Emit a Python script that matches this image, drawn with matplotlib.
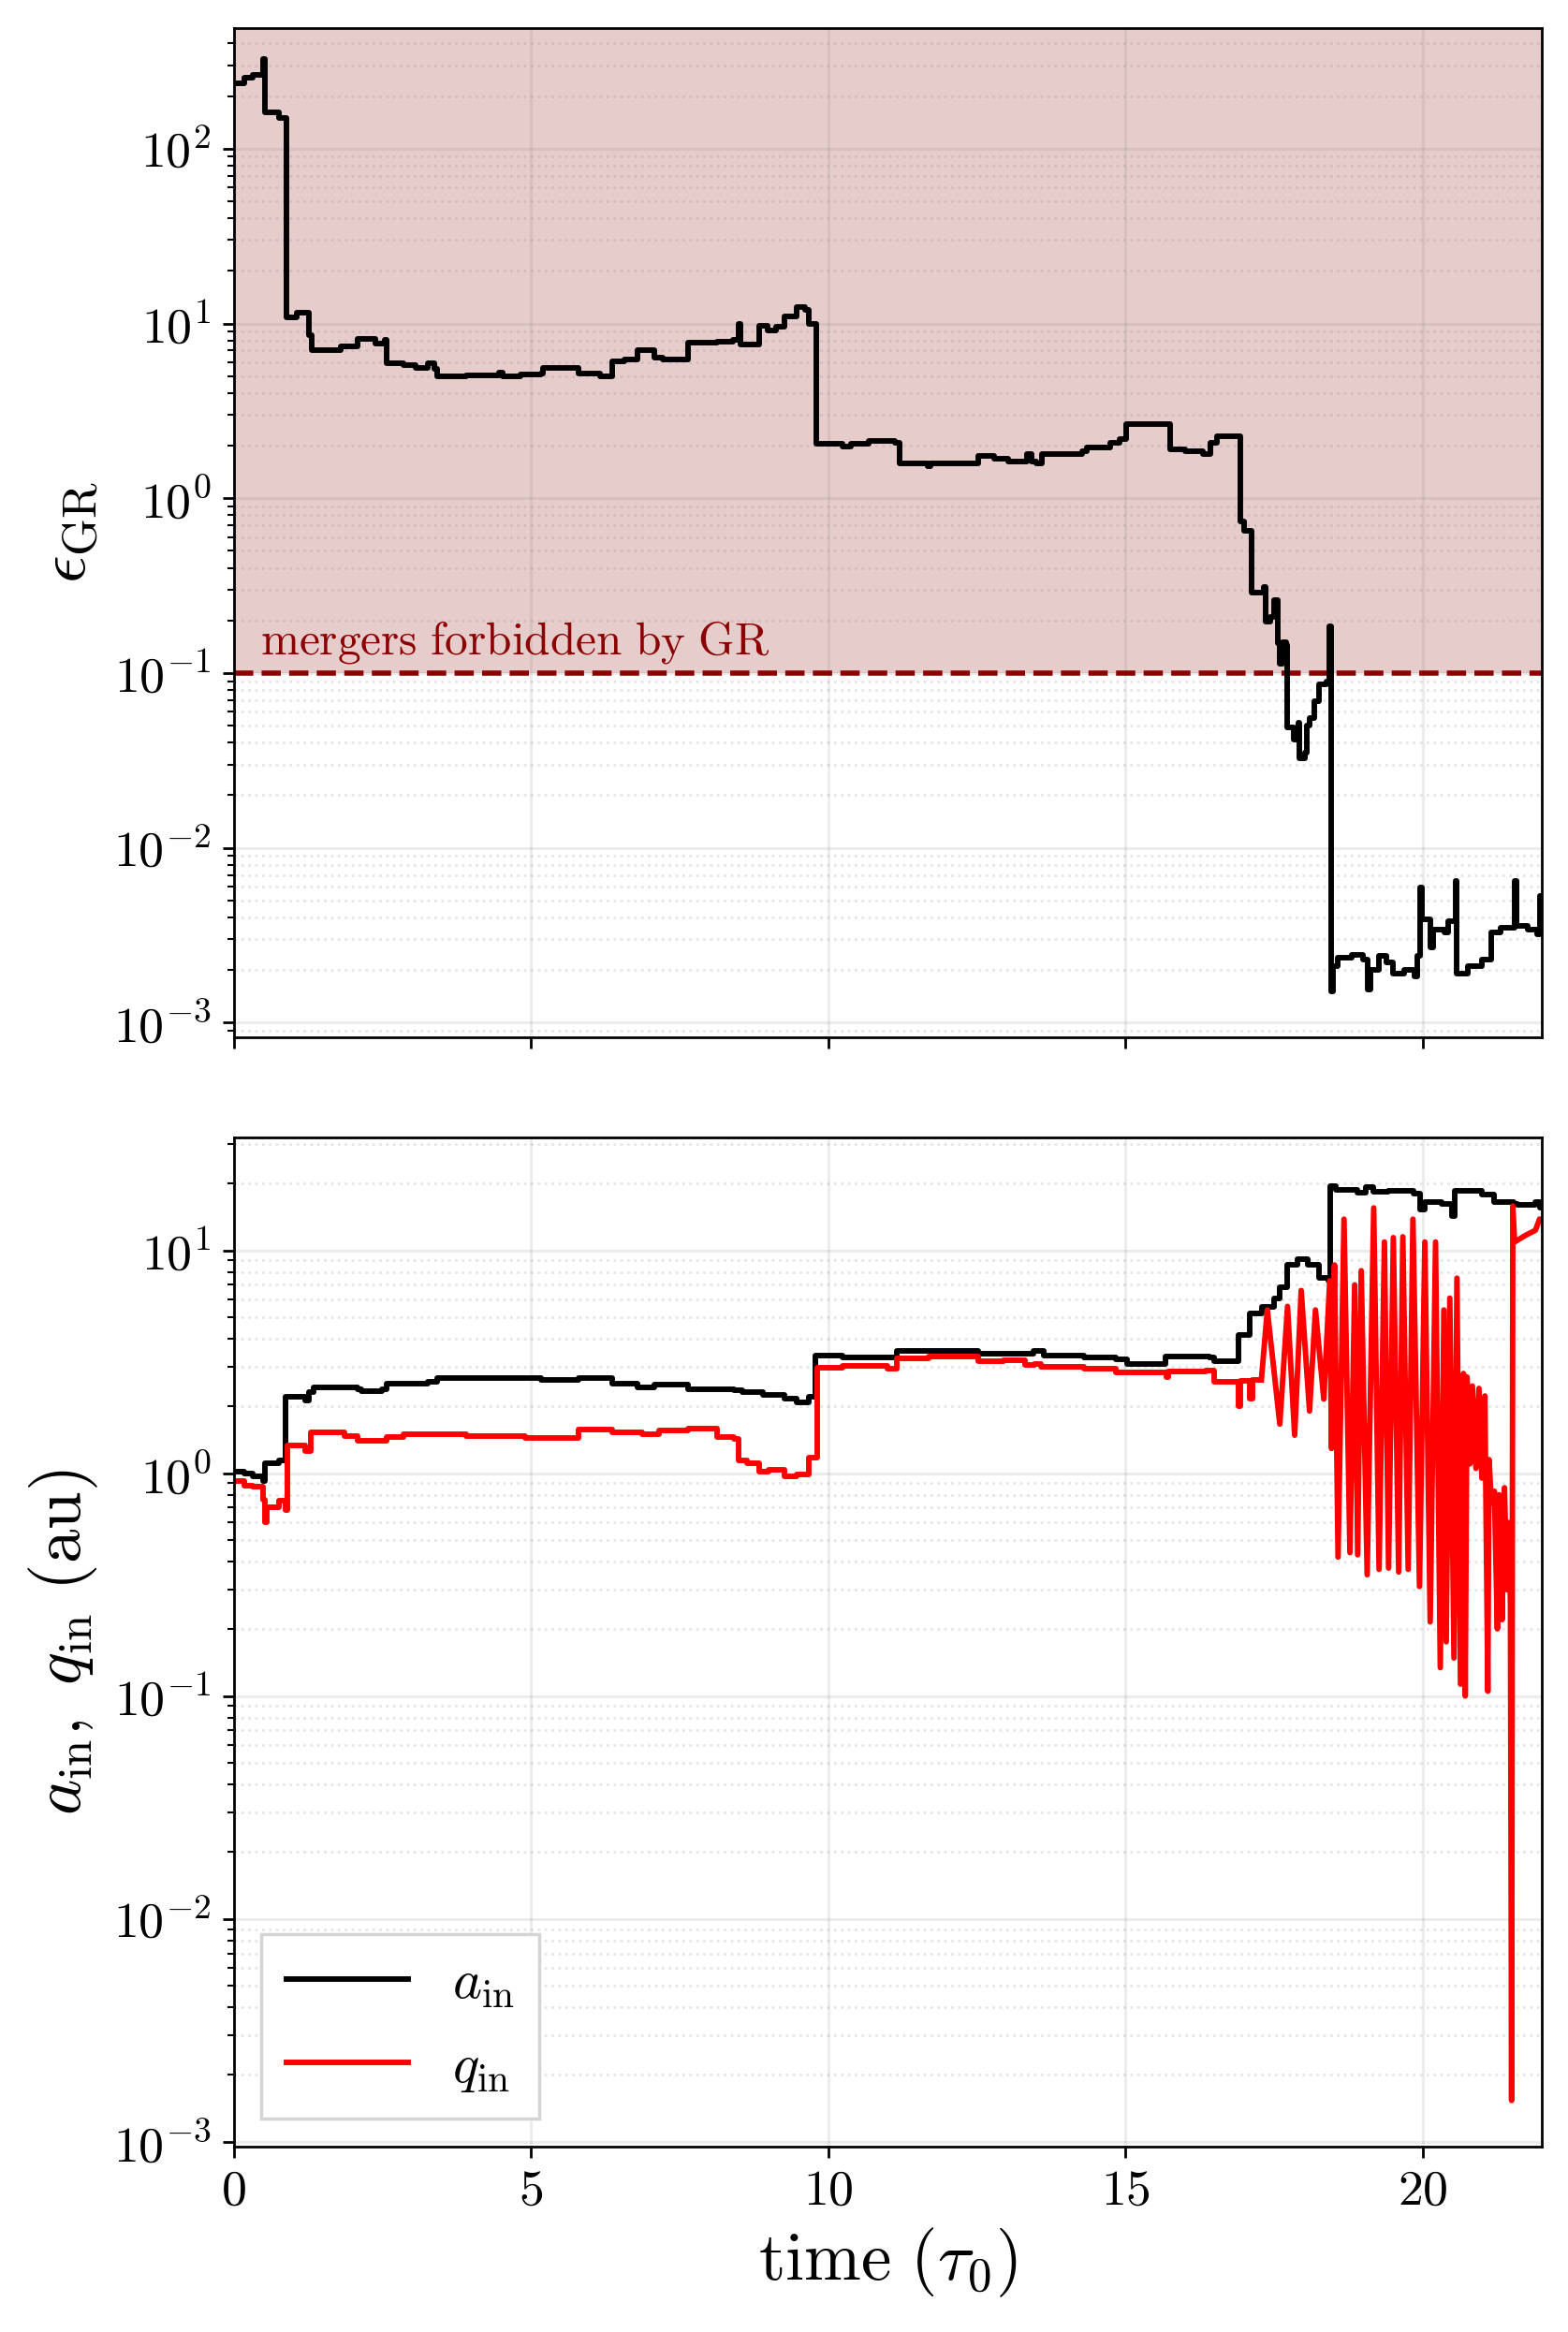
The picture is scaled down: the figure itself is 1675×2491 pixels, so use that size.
import math
import matplotlib
matplotlib.use('Agg')
import matplotlib.pyplot as plt
from matplotlib.ticker import FuncFormatter, NullFormatter, FixedLocator

# epsilon_GR, step curve: (time in tau_0, value)
eps_t = [0.0, 0.18, 0.32, 0.49, 0.53, 0.77, 0.89, 1.06, 1.27, 1.32,
         1.8, 2.08, 2.39, 2.54, 2.57, 2.85, 3.06, 3.27, 3.38, 3.42,
         3.91, 4.47, 4.52, 4.82, 5.18, 5.21, 5.81, 6.16, 6.37, 6.58,
         6.8, 7.08, 7.22, 7.64, 8.13, 8.4, 8.49, 8.52, 8.84, 8.98,
         9.12, 9.26, 9.47, 9.61, 9.68, 9.81, 10.25, 10.39, 10.69, 11.12,
         11.2, 11.67, 11.72, 12.53, 12.8, 13.03, 13.35, 13.42, 13.5, 13.6,
         14.28, 14.35, 14.75, 14.9, 15.02, 15.75, 16.0, 16.3, 16.43, 16.54,
         16.7, 16.93, 17.0, 17.12, 17.25, 17.33, 17.36, 17.44, 17.5, 17.56,
         17.6, 17.64, 17.71, 17.73, 17.83, 17.91, 17.93, 18.03, 18.06, 18.1,
         18.18, 18.26, 18.38, 18.44, 18.46, 18.5, 18.57, 18.81, 19.0, 19.08,
         19.12, 19.27, 19.39, 19.5, 19.7, 19.86, 19.92, 19.96, 19.99, 20.13,
         20.18, 20.37, 20.44, 20.56, 20.58, 20.76, 21.0, 21.15, 21.31, 21.55,
         21.58, 21.77, 21.93, 21.97, 22.0]
eps_v = [235, 255, 263, 327, 162, 150, 10.8, 11.5, 8.6, 7.0,
         7.4, 8.2, 7.7, 8.1, 5.9, 5.8, 5.6, 5.9, 5.5, 5.0,
         5.05, 5.25, 5.0, 5.1, 5.15, 5.6, 5.2, 5.0, 6.05, 6.2,
         7.0, 6.4, 6.2, 7.75, 7.9, 8.1, 9.9, 7.6, 9.7, 9.1,
         9.6, 11.0, 12.4, 11.9, 10.0, 2.04, 1.98, 2.06, 2.12, 2.07,
         1.58, 1.52, 1.58, 1.75, 1.68, 1.62, 1.8, 1.62, 1.58, 1.8,
         1.86, 1.95, 2.07, 2.18, 2.65, 1.9, 1.86, 1.8, 2.07, 2.27,
         2.25, 0.74, 0.65, 0.29, 0.29, 0.31, 0.196, 0.21, 0.26, 0.149,
         0.113, 0.15, 0.145, 0.049, 0.0417, 0.052, 0.0325, 0.035, 0.05, 0.055,
         0.0687, 0.086, 0.09, 0.186, 1.51e-3, 2.1e-3, 2.34e-3, 2.45e-3, 2.3e-3, 1.55e-3,
         2.0e-3, 2.4e-3, 2.2e-3, 1.9e-3, 2.0e-3, 1.85e-3, 2.4e-3, 5.9e-3, 3.9e-3, 2.7e-3,
         3.4e-3, 3.3e-3, 3.8e-3, 6.5e-3, 1.9e-3, 2.1e-3, 2.3e-3, 3.3e-3, 3.5e-3, 6.5e-3,
         3.6e-3, 3.4e-3, 3.2e-3, 5.3e-3, 5.3e-3]

# a_in (au), step curve
a_t = [0.0, 0.18, 0.32, 0.49, 0.53, 0.77, 0.88, 1.2, 1.27, 1.34,
       2.08, 2.15, 2.5, 2.57, 3.27, 3.42, 4.5, 5.18, 5.81, 6.37,
       6.8, 7.08, 7.64, 8.42, 8.56, 8.84, 8.9, 9.26, 9.47, 9.68,
       9.79, 10.25, 10.87, 11.16, 11.69, 12.53, 13.37, 13.45, 13.63, 14.31,
       14.84, 15.03, 15.68, 16.42, 16.5, 16.91, 17.1, 17.3, 17.5, 17.6,
       17.72, 17.9, 18.07, 18.26, 18.41, 18.45, 18.54, 18.91, 19.04, 19.17,
       19.43, 19.85, 19.96, 20.04, 20.32, 20.5, 20.54, 21.0, 21.21, 21.53,
       21.6, 21.9, 21.97, 22.0]
a_v = [1.02, 1.0, 0.97, 0.92, 1.11, 1.14, 2.2, 2.11, 2.31, 2.43,
       2.38, 2.33, 2.38, 2.53, 2.58, 2.68, 2.66, 2.62, 2.66, 2.51,
       2.42, 2.5, 2.38, 2.36, 2.3, 2.32, 2.25, 2.16, 2.08, 2.2,
       3.36, 3.32, 3.3, 3.54, 3.52, 3.45, 3.42, 3.54, 3.38, 3.3,
       3.24, 3.09, 3.33, 3.3, 3.19, 4.17, 5.2, 5.55, 6.1, 6.8,
       8.6, 9.1, 8.6, 7.5, 7.3, 19.4, 18.7, 18.2, 19.3, 18.4,
       18.5, 18.0, 15.3, 16.4, 16.2, 14.3, 18.5, 17.8, 16.4, 16.1,
       16.0, 16.4, 15.5, 15.5]

# q_in (au), step part before the oscillations
q_step_t = [0.0, 0.18, 0.32, 0.49, 0.53, 0.56, 0.77, 0.88, 0.9, 1.2,
            1.3, 1.87, 2.08, 2.57, 2.85, 3.91, 4.9, 5.81, 6.37, 6.87,
            7.15, 7.64, 8.13, 8.42, 8.49, 8.63, 8.84, 9.0, 9.26, 9.47,
            9.68, 9.82, 10.25, 11.0, 11.16, 11.69, 12.53, 12.95, 13.32, 13.47,
            13.58, 14.31, 14.84, 15.68, 15.7, 15.73, 16.35, 16.5, 16.91, 16.94,
            17.1, 17.14, 17.29]
q_step_v = [0.92, 0.88, 0.87, 0.76, 0.6, 0.70, 0.75, 0.68, 1.33, 1.26,
            1.52, 1.47, 1.40, 1.45, 1.49, 1.46, 1.44, 1.57, 1.52, 1.49,
            1.55, 1.59, 1.45, 1.42, 1.14, 1.11, 1.02, 1.04, 0.97, 0.99,
            1.17, 2.98, 3.04, 2.95, 3.27, 3.35, 3.18, 3.22, 3.05, 3.1,
            3.0, 2.93, 2.83, 2.83, 2.7, 2.85, 2.9, 2.57, 2.0, 2.6,
            2.15, 2.62, 2.62]

# q_in (au), oscillating part (peaks and troughs)
q_osc_t = [17.29, 17.39, 17.6, 17.73, 17.85, 17.96, 18.1, 18.2, 18.34, 18.44,
           18.47, 18.52, 18.58, 18.68, 18.78, 18.86, 18.91, 18.97, 19.07, 19.18,
           19.27, 19.36, 19.43, 19.51, 19.6, 19.67, 19.76, 19.84, 19.95, 20.04,
           20.13, 20.22, 20.3, 20.36, 20.4, 20.46, 20.53, 20.58, 20.64, 20.69,
           20.72, 20.75, 20.8, 20.84, 20.9, 20.95, 21.0, 21.05, 21.1, 21.12,
           21.16, 21.21, 21.26, 21.29, 21.34, 21.38, 21.42, 21.45, 21.48, 21.5,
           21.52, 21.55, 21.74, 21.9, 21.97, 22.0]
q_osc_v = [2.62, 5.4, 1.66, 5.6, 1.48, 6.6, 1.9, 5.4, 2.15, 7.3,
           1.29, 8.6, 0.42, 13.8, 0.44, 7.0, 0.43, 8.1, 0.35, 15.5,
           0.37, 10.9, 0.375, 11.4, 0.36, 11.5, 0.37, 13.8, 0.31, 10.9,
           0.215, 10.9, 0.134, 5.4, 0.175, 6.1, 0.148, 7.5, 0.113, 2.8,
           0.1, 2.7, 1.1, 2.46, 1.05, 2.4, 0.95, 2.22, 0.105, 1.15,
           0.73, 0.83, 0.2, 0.8, 0.22, 0.86, 0.3, 0.6, 0.26, 1.53e-3,
           15.8, 10.9, 11.7, 12.3, 13.8, 13.8]

eps_limit = 0.1
x_ticks = [0, 5, 10, 15, 20]


def log_label(v, pos):
    return r'$10^{%d}$' % round(math.log10(v))


def style_axis(ax):
    ax.set_yscale('log')
    ax.grid(which='major', color='gray', alpha=0.15, lw=0.9)
    ax.grid(which='minor', color='gray', alpha=0.2, lw=0.8, ls=':')
    ax.yaxis.set_major_formatter(FuncFormatter(log_label))
    ax.yaxis.set_minor_formatter(NullFormatter())
    ax.tick_params(labelsize=15.5)


def main():
    plt.rcParams['mathtext.fontset'] = 'cm'
    plt.rcParams['font.family'] = ['serif']
    plt.rcParams['font.serif'] = ['cmr10', 'DejaVu Serif']

    fig, (ax1, ax2) = plt.subplots(2, 1, sharex=True, figsize=(6.7, 9.964), dpi=250)
    fig.subplots_adjust(left=0.149, right=0.983, top=0.988, bottom=0.0795, hspace=0.1)

    # top panel: epsilon_GR
    ax1.axhspan(eps_limit, 1e4, color='darkred', alpha=0.2, lw=0, zorder=0)
    ax1.axhline(eps_limit, color='darkred', ls='--', lw=1.6)
    ax1.plot(eps_t, eps_v, color='black', lw=1.7, drawstyle='steps-post')
    ax1.text(0.44, 0.128, r'$\mathrm{mergers\ forbidden\ by\ GR}$', color='darkred',
             fontsize=14.2, va='baseline')
    style_axis(ax1)
    ax1.set_ylim(8.3e-4, 4.9e2)
    ax1.set_ylabel(r'$\epsilon_{\rm GR}$', fontsize=21)

    # bottom panel: a_in and q_in
    ax2.plot(a_t, a_v, color='black', lw=1.7, drawstyle='steps-post', label=r'$a_{\rm in}$')
    ax2.plot(q_step_t, q_step_v, color='red', lw=1.7, drawstyle='steps-post', label=r'$q_{\rm in}$')
    ax2.plot(q_osc_t, q_osc_v, color='red', lw=1.7)
    style_axis(ax2)
    ax2.set_ylim(9.5e-4, 32)
    ax2.set_ylabel(r'$a_{\rm in},\ q_{\rm in}\ (\mathrm{au})$', fontsize=21)
    ax2.set_xlabel(r'$\mathrm{time}\ (\tau_0)$', fontsize=21)
    ax2.legend(loc='lower left', fontsize=17, fancybox=False, handlelength=2.2,
               labelspacing=0.6, borderpad=0.45, edgecolor='0.83', framealpha=1)

    ax2.set_xlim(0, 22)
    ax2.xaxis.set_major_locator(FixedLocator(x_ticks))
    ax2.xaxis.set_major_formatter(FuncFormatter(lambda v, p: r'$%d$' % v))

    fig.savefig('out.png')


if __name__ == '__main__':
    main()
